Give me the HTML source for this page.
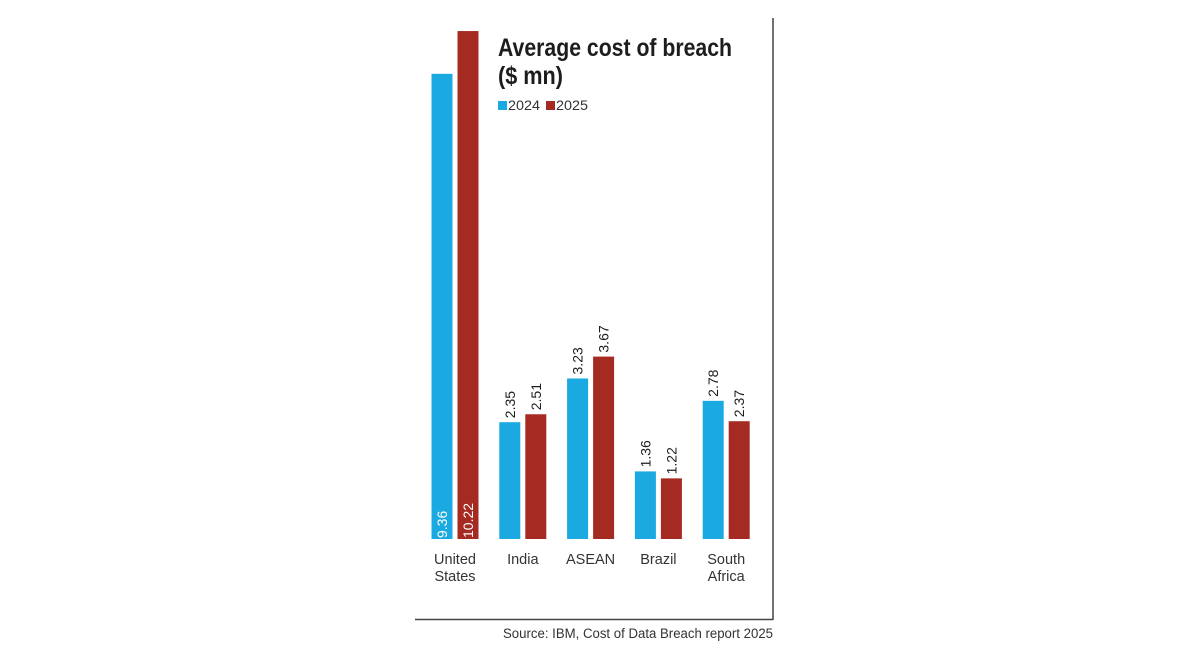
<!DOCTYPE html>
<html><head><meta charset="utf-8"><style>
html,body{margin:0;padding:0;background:#fff;width:1200px;height:670px;overflow:hidden}
svg{display:block}
text{font-family:"Liberation Sans",sans-serif}
</style></head><body>
<svg id="chart" width="1200" height="670">
<line x1="773" y1="18" x2="773" y2="620" stroke="#444" stroke-width="1.5"/>
<line x1="415" y1="619.5" x2="773" y2="619.5" stroke="#444" stroke-width="1.5"/>
<text x="498" y="56" font-size="25" font-weight="bold" fill="#1d1d1d" textLength="234" lengthAdjust="spacingAndGlyphs">Average cost of breach</text>
<text x="498" y="84" font-size="25" font-weight="bold" fill="#1d1d1d" textLength="65" lengthAdjust="spacingAndGlyphs">($ mn)</text>
<rect x="498" y="101" width="9" height="9" fill="#1aa9e1"/>
<text x="508" y="110" font-size="14" fill="#333" textLength="32" lengthAdjust="spacingAndGlyphs">2024</text>
<rect x="546" y="101" width="9" height="9" fill="#a52a21"/>
<text x="556" y="110" font-size="14" fill="#333" textLength="32" lengthAdjust="spacingAndGlyphs">2025</text>
<text x="773" y="638" font-size="13.5" fill="#333" text-anchor="end" textLength="270" lengthAdjust="spacingAndGlyphs">Source: IBM, Cost of Data Breach report 2025</text>
<g id="bars"></g>
</svg>
<script>
const categories=[["United","States"],["India"],["ASEAN"],["Brazil"],["South","Africa"]];
const values2024=[9.36,2.35,3.23,1.36,2.78];
const values2025=[10.22,2.51,3.67,1.22,2.37];
const labels2024=["9.36","2.35","3.23","1.36","2.78"];
const labels2025=["10.22","2.51","3.67","1.22","2.37"];
const baseY=539, pxPerUnit=49.7, firstCenter=455, step=67.8, barW=21, gap=5;
const yScale=v=>baseY-v*pxPerUnit;
const xCenter=i=>firstCenter+i*step;
const NS="http://www.w3.org/2000/svg";
const g=document.getElementById('bars');
function mk(tag,attrs){const e=document.createElementNS(NS,tag);for(const k in attrs)e.setAttribute(k,attrs[k]);g.appendChild(e);return e;}
const series=[[values2024,labels2024,"#1aa9e1","2024"],[values2025,labels2025,"#a52a21","2025"]];
categories.forEach((cat,i)=>{
  series.forEach((s,si)=>{
    const v=s[0][i];
    const x=si===0?xCenter(i)-gap/2-barW:xCenter(i)+gap/2;
    const y=yScale(v);
    const r=mk('rect',{x:x,y:y,width:barW,height:baseY-y,fill:s[2]});
    
    
    const cx=x+barW/2+5;
    let t;
    if(v>6){
      t=mk('text',{x:0,y:0,'font-size':14,fill:'#fff',transform:`translate(${cx},${baseY-1}) rotate(-90)`});
    }else{
      t=mk('text',{x:0,y:0,'font-size':14,fill:'#1d1d1d',transform:`translate(${cx},${y-4}) rotate(-90)`});
    }
    t.textContent=s[1][i];
    
    
  });
  cat.forEach((line,li)=>{
    const t=mk('text',{x:xCenter(i),y:564+li*17,'font-size':14.5,fill:'#333','text-anchor':'middle'});
    t.textContent=line;
    
    
  });
});
</script>
</body></html>
